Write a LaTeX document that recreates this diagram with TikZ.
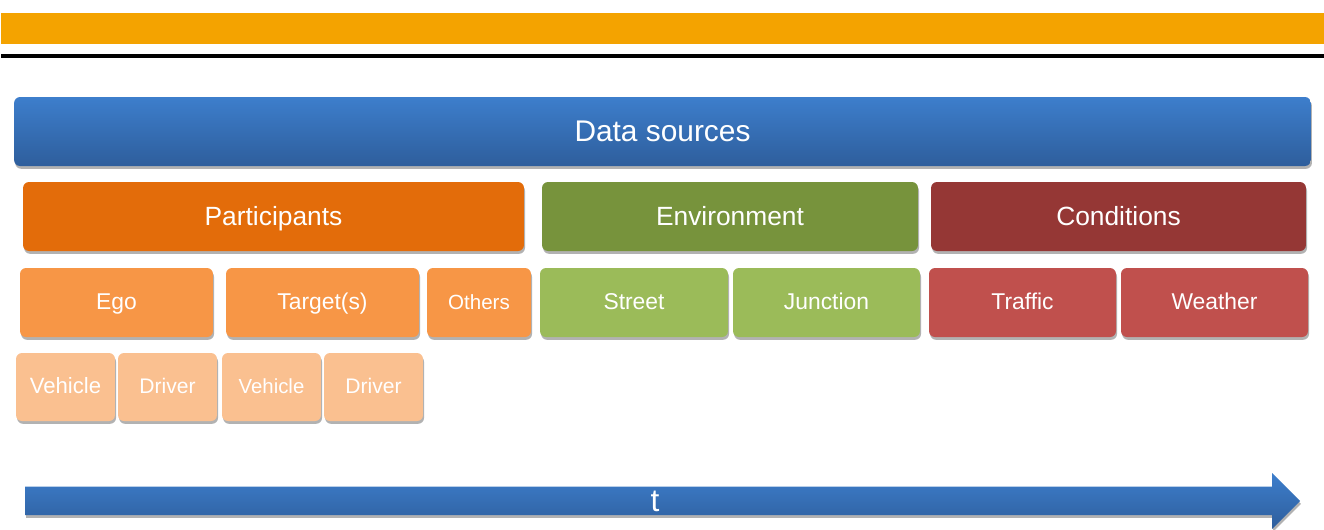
\documentclass[tikz,border=0pt]{standalone}
\usepackage{fontspec}
\setmainfont{Liberation Sans}
\usetikzlibrary{shadows}
\definecolor{barorange}{HTML}{F4A300}
\definecolor{dstop}{HTML}{3D7ECC}
\definecolor{dsbot}{HTML}{2E5E9C}
\definecolor{partc}{HTML}{E36C0A}
\definecolor{envc}{HTML}{77933C}
\definecolor{condc}{HTML}{953735}
\definecolor{partl}{HTML}{F79646}
\definecolor{envl}{HTML}{9BBB59}
\definecolor{condl}{HTML}{C0504D}
\definecolor{partxl}{HTML}{FAC090}
\begin{document}
\begin{tikzpicture}[x=0.02cm,y=-0.02cm,
  shad/.style={drop shadow={shadow xshift=0.6pt,shadow yshift=-1.6pt,opacity=0.3,fill=black}},
  tile/.style={shad,rounded corners=3.4pt,text=white,inner sep=0pt,minimum height=1.38cm},
  headbox/.style={tile,font=\fontsize{17}{20}\selectfont,text height=12.2pt,text depth=1.2pt,
    top color=dstop,bottom color=dsbot},
  catbox/.style={tile,font=\fontsize{15}{18}\selectfont,text height=10.8pt,text depth=1.1pt},
  subbox/.style={tile,font=\fontsize{13}{16}\selectfont,text height=9.4pt,text depth=1pt},
  leafbox/.style={tile,font=\fontsize{12.3}{15}\selectfont,text height=8.9pt,text depth=1pt,
    minimum height=1.36cm,minimum width=1.98cm,fill=partxl}]
\useasboundingbox (0,0) rectangle (1324,529);
% title band
\fill[barorange] (1,13) rectangle (1324,44);
\fill[black] (1,54) rectangle (1324,58);
% top level
\node[headbox,minimum width=25.94cm] (ds) at (662.5,131.5) {Data sources};
% categories
\node[catbox,fill=partc,minimum width=10.02cm] (part) at (273.5,216.5) {Participants};
\node[catbox,fill=envc,minimum width=7.52cm] (env) at (730,216.5) {Environment};
\node[catbox,fill=condc,minimum width=7.5cm] (cond) at (1118.5,216.5) {Conditions};
% sub-categories
\node[subbox,fill=partl,minimum width=3.86cm] (ego) at (116.5,302.5) {Ego};
\node[subbox,fill=partl,minimum width=3.86cm] (tgt) at (322.5,302.5) {Target(s)};
\node[subbox,fill=partl,minimum width=2.08cm,font=\fontsize{11.7}{14}\selectfont] (oth) at (479,302.5) {Others};
\node[subbox,fill=envl,minimum width=3.76cm] (street) at (634,302.5) {Street};
\node[subbox,fill=envl,minimum width=3.74cm] (junc) at (826.5,302.5) {Junction};
\node[subbox,fill=condl,minimum width=3.74cm] (traffic) at (1022.5,302.5) {Traffic};
\node[subbox,fill=condl,minimum width=3.74cm] (weather) at (1214.5,302.5) {Weather};
% participant details
\node[leafbox,font=\fontsize{12.6}{15}\selectfont] (egoveh) at (65.5,387) {Vehicle};
\node[leafbox,font=\fontsize{12}{15}\selectfont] (egodrv) at (167.5,387) {Driver};
\node[leafbox,font=\fontsize{11.6}{14}\selectfont] (tgtveh) at (271.5,387) {Vehicle};
\node[leafbox,font=\fontsize{12}{15}\selectfont] (tgtdrv) at (373.5,387) {Driver};
% time axis
\path[shad,top color=dstop,bottom color=dsbot]
  (25,486.5) -- (1272,486.5) -- (1272,473) -- (1300,501) -- (1272,529) -- (1272,515) -- (25,515) -- cycle;
\node[text=white,font=\fontsize{18}{20}\selectfont,inner sep=0pt] (tlabel) at (655,501) {t};
\end{tikzpicture}
\end{document}
